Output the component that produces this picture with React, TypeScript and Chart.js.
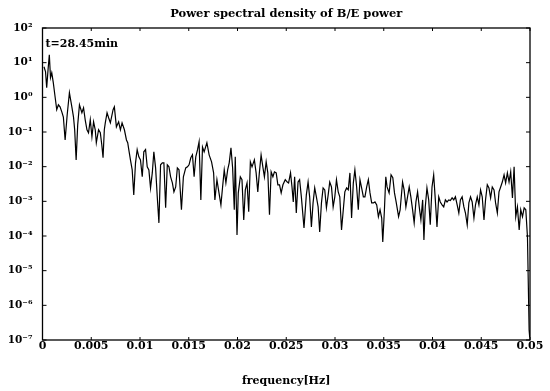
import React, { useEffect, useRef } from "react";
import { Chart, registerables } from "chart.js";

Chart.register(...registerables);

const titleText = "Power spectral density of B/E power";
const xAxisTitle = "frequency[Hz]";
const annotationText = "t=28.45min";

const xTickValues = [0, 0.005, 0.01, 0.015, 0.02, 0.025, 0.03, 0.035, 0.04, 0.045, 0.05];
const xTickLabels = ["0", "0.005", "0.01", "0.015", "0.02", "0.025", "0.03", "0.035", "0.04", "0.045", "0.05"];
const yTickValues = [1e-7, 1e-6, 1e-5, 1e-4, 1e-3, 1e-2, 1e-1, 1e0, 1e1, 1e2];
const yTickLabels = ["10⁻⁷", "10⁻⁶", "10⁻⁵", "10⁻⁴", "10⁻³", "10⁻²", "10⁻¹", "10⁰", "10¹", "10²"];

const freqHz = [
  0.00015, 0.00031, 0.00043, 0.00057, 0.0007, 0.00082, 0.00095, 0.00111, 0.00129, 0.00146,
  0.00163, 0.0018, 0.00198, 0.00214, 0.00232, 0.00253, 0.00276, 0.00301, 0.00318, 0.0033,
  0.00345, 0.00361, 0.00379, 0.00404, 0.00421, 0.00438, 0.00456, 0.00472, 0.0049, 0.00507,
  0.00524, 0.00541, 0.00552, 0.00575, 0.00593, 0.00608, 0.00621, 0.00634, 0.00644, 0.00662,
  0.00678, 0.00696, 0.00724, 0.00737, 0.00758, 0.00781, 0.00799, 0.00816, 0.0084, 0.00861,
  0.00874, 0.00885, 0.00902, 0.0092, 0.00936, 0.00954, 0.00971, 0.00988, 0.01005, 0.01023,
  0.01039, 0.01057, 0.01074, 0.01091, 0.01108, 0.01126, 0.01142, 0.0116, 0.01177, 0.01194,
  0.01211, 0.01229, 0.01245, 0.01263, 0.0128, 0.01297, 0.01314, 0.01332, 0.01348, 0.01366,
  0.01383, 0.014, 0.01425, 0.01445, 0.01469, 0.01487, 0.01503, 0.01521, 0.01538, 0.01555,
  0.01572, 0.0159, 0.01606, 0.01624, 0.01641, 0.01658, 0.01686, 0.01709, 0.01734, 0.01755,
  0.01768, 0.01789, 0.01802, 0.0183, 0.01847, 0.01864, 0.01881, 0.01899, 0.01915, 0.01933,
  0.0195, 0.01967, 0.01977, 0.01995, 0.02008, 0.02029, 0.02046, 0.02064, 0.0208, 0.02098,
  0.02115, 0.02132, 0.02149, 0.02173, 0.02191, 0.02208, 0.02224, 0.02242, 0.0226, 0.02276,
  0.02294, 0.02311, 0.02328, 0.02345, 0.02363, 0.02379, 0.02397, 0.02414, 0.02431, 0.02448,
  0.02466, 0.0249, 0.0251, 0.02524, 0.02544, 0.02559, 0.02572, 0.02586, 0.02603, 0.02621,
  0.02637, 0.02655, 0.02682, 0.02706, 0.02724, 0.0274, 0.02758, 0.02775, 0.02792, 0.02809,
  0.02827, 0.02843, 0.02861, 0.02878, 0.02895, 0.02912, 0.0293, 0.02946, 0.02964, 0.02981,
  0.02998, 0.03015, 0.03033, 0.03049, 0.03067, 0.03085, 0.03101, 0.03119, 0.03136, 0.03153,
  0.0317, 0.03188, 0.03204, 0.03222, 0.03239, 0.03256, 0.03273, 0.03291, 0.03307, 0.03325,
  0.03342, 0.03359, 0.03376, 0.03394, 0.0341, 0.03428, 0.03445, 0.03462, 0.03479, 0.0349,
  0.03507, 0.03521, 0.03534, 0.03555, 0.03575, 0.03593, 0.0361, 0.03627, 0.03652, 0.03668,
  0.03693, 0.03709, 0.03727, 0.03744, 0.03761, 0.03778, 0.03796, 0.03812, 0.0383, 0.03847,
  0.03864, 0.03881, 0.03899, 0.03912, 0.03926, 0.03943, 0.03961, 0.03977, 0.03995, 0.04012,
  0.04029, 0.04046, 0.04064, 0.0408, 0.04098, 0.04115, 0.04132, 0.04149, 0.04167, 0.04183,
  0.04201, 0.04218, 0.04235, 0.04253, 0.0427, 0.04286, 0.04304, 0.04322, 0.04338, 0.04356,
  0.04373, 0.0439, 0.04407, 0.04425, 0.04441, 0.04459, 0.04476, 0.04493, 0.0451, 0.04528,
  0.04544, 0.04562, 0.04579, 0.04596, 0.04613, 0.04631, 0.04647, 0.04665, 0.04682, 0.04699,
  0.04716, 0.04734, 0.0475, 0.04768, 0.04785, 0.04802, 0.0482, 0.04837, 0.04854, 0.04871,
  0.04889, 0.04905, 0.04923, 0.0494, 0.04957, 0.04974, 0.04991, 0.04997
];

const psdValues = [
  7.6, 5.5, 1.9, 6.3, 16.9, 3.7, 5.1, 2.6, 1.04, 0.44,
  0.61, 0.53, 0.38, 0.27, 0.059, 0.31, 1.36, 0.53, 0.27, 0.116,
  0.0157, 0.161, 0.61, 0.36, 0.5, 0.225, 0.116, 0.095, 0.225, 0.073,
  0.197, 0.116, 0.049, 0.116, 0.095, 0.043, 0.018, 0.116, 0.184, 0.36,
  0.257, 0.184, 0.44, 0.53, 0.141, 0.197, 0.116, 0.184, 0.116, 0.059,
  0.049, 0.031, 0.0157, 0.0081, 0.00153, 0.0129, 0.031, 0.0192, 0.0157, 0.0051,
  0.0268, 0.031, 0.0099, 0.0081, 0.00244, 0.0066, 0.0268, 0.0092, 0.00135, 0.000239,
  0.0113, 0.0129, 0.0129, 0.00065, 0.0113, 0.0099, 0.0051, 0.0034, 0.00188, 0.0026,
  0.0092, 0.0081, 0.00057, 0.0051, 0.0092, 0.0099, 0.0113, 0.018, 0.0219, 0.0051,
  0.0192, 0.031, 0.052, 0.0011, 0.037, 0.0268, 0.049, 0.0219, 0.0138, 0.0066,
  0.0011, 0.0042, 0.00244, 0.00079, 0.0026, 0.0081, 0.0034, 0.0081, 0.0129, 0.035,
  0.0092, 0.00057, 0.0192, 0.000107, 0.00175, 0.0051, 0.0042, 0.00029, 0.00214, 0.0034,
  0.0005, 0.0138, 0.0099, 0.0157, 0.0066, 0.00188, 0.0066, 0.0219, 0.0099, 0.0051,
  0.0138, 0.0066, 0.00041, 0.0071, 0.0051, 0.0071, 0.0066, 0.003, 0.003, 0.00175,
  0.003, 0.0042, 0.0036, 0.0034, 0.0066, 0.0026, 0.00096, 0.0051, 0.00046, 0.0036,
  0.0042, 0.00135, 0.000171, 0.00153, 0.0036, 0.00135, 0.000183, 0.0009, 0.00244, 0.00135,
  0.00069, 0.000131, 0.0009, 0.00244, 0.00214, 0.00065, 0.00153, 0.0036, 0.0026, 0.00069,
  0.00135, 0.0042, 0.00188, 0.00135, 0.00015, 0.00057, 0.00188, 0.00244, 0.00214, 0.0066,
  0.00033, 0.0034, 0.0081, 0.0026, 0.00057, 0.0042, 0.00244, 0.00135, 0.00135, 0.0026,
  0.0042, 0.00175, 0.0009, 0.0009, 0.00096, 0.00079, 0.00036, 0.00057, 0.00033, 0.0000675,
  0.00057, 0.0051, 0.0026, 0.00175, 0.0058, 0.0048, 0.00175, 0.00096, 0.00036, 0.00057,
  0.0036, 0.00214, 0.00069, 0.00135, 0.0026, 0.00135, 0.00057, 0.000239, 0.00096, 0.00188,
  0.00069, 0.00029, 0.0011, 0.000077, 0.00069, 0.00244, 0.0011, 0.00021, 0.0026, 0.0058,
  0.0011, 0.000183, 0.00135, 0.00096, 0.00079, 0.00069, 0.0011, 0.00096, 0.0011, 0.00105,
  0.00126, 0.0011, 0.00135, 0.00079, 0.00046, 0.0011, 0.00135, 0.00069, 0.00046, 0.00021,
  0.0009, 0.00135, 0.00096, 0.00033, 0.00079, 0.00135, 0.00079, 0.00214, 0.00135, 0.00029,
  0.0011, 0.003, 0.00244, 0.00126, 0.0026, 0.00214, 0.0009, 0.00046, 0.00188, 0.0026,
  0.0036, 0.0058, 0.0034, 0.0066, 0.0036, 0.0071, 0.00126, 0.0099, 0.00036, 0.00069,
  0.00015, 0.00057, 0.00036, 0.00065, 0.00057, 0.000094, 1.9e-7, 1.2e-7
];

const FONT = "'DejaVu Serif', 'Liberation Serif', serif";

const framePlugin = {
  id: "frameAndTicks",
  afterDraw(chart: any) {
    const { ctx, chartArea } = chart;
    const { left, right, top, bottom } = chartArea;
    const xs = chart.scales.x;
    const ys = chart.scales.y;
    ctx.save();
    ctx.strokeStyle = "#000";
    ctx.lineWidth = 1.3;
    ctx.strokeRect(left, top, right - left, bottom - top);
    ctx.lineWidth = 1;
    ctx.beginPath();
    yTickValues.forEach((v) => {
      const py = ys.getPixelForValue(v);
      ctx.moveTo(left, py);
      ctx.lineTo(left + 4, py);
      ctx.moveTo(right, py);
      ctx.lineTo(right - 4, py);
    });
    xTickValues.forEach((v) => {
      const px = xs.getPixelForValue(v);
      ctx.moveTo(px, top);
      ctx.lineTo(px, top + 3);
      ctx.moveTo(px, bottom);
      ctx.lineTo(px, bottom - 3);
    });
    ctx.stroke();
    ctx.fillStyle = "#000";
    ctx.font = "bold 11px " + FONT;
    ctx.textAlign = "left";
    ctx.textBaseline = "middle";
    ctx.fillText(annotationText, left + 3, top + 16);
    ctx.font = "bold 11.5px " + FONT;
    ctx.textAlign = "center";
    ctx.fillText(titleText, (left + right) / 2, 14);
    ctx.restore();
  },
};

export default function App() {
  const canvasRef = useRef<HTMLCanvasElement | null>(null);

  useEffect(() => {
    if (!canvasRef.current) return;
    const points = freqHz.map((f, i) => ({ x: f, y: psdValues[i] }));
    const chart = new Chart(canvasRef.current, {
      type: "line",
      data: {
        datasets: [
          {
            data: points,
            borderColor: "#000",
            borderWidth: 1.2,
            pointRadius: 0,
            tension: 0,
            fill: false,
          },
        ],
      },
      options: {
        animation: false,
        responsive: true,
        maintainAspectRatio: false,
        layout: { padding: { left: 0, right: 20, top: 28, bottom: 0 } },
        plugins: {
          legend: { display: false },
          tooltip: { enabled: false },
          title: { display: false },
        },
        scales: {
          x: {
            type: "linear",
            min: 0,
            max: 0.05,
            afterBuildTicks: (s: any) => {
              s.ticks = xTickValues.map((v) => ({ value: v }));
            },
            afterFit: (s: any) => {
              s.height = 51;
            },
            grid: { display: false, drawTicks: false },
            border: { display: false },
            ticks: {
              color: "#000",
              padding: 0,
              maxRotation: 0,
              autoSkip: false,
              font: { family: FONT, size: 11, weight: "bold" },
              callback: (_v: any, i: number) => xTickLabels[i],
            },
            title: {
              display: true,
              text: xAxisTitle,
              color: "#000",
              font: { family: FONT, size: 11, weight: "bold" },
              padding: { top: 0, bottom: 3 },
            },
          },
          y: {
            type: "logarithmic",
            min: 1e-7,
            max: 1e2,
            afterBuildTicks: (s: any) => {
              s.ticks = yTickValues.map((v) => ({ value: v }));
            },
            afterFit: (s: any) => {
              s.width = 42.5;
            },
            grid: { display: false, drawTicks: false },
            border: { display: false },
            ticks: {
              color: "#000",
              padding: 10,
              autoSkip: false,
              font: { family: FONT, size: 10.5, weight: "bold" },
              callback: (_v: any, i: number) => yTickLabels[i],
            },
          },
        },
      },
      plugins: [framePlugin],
    });
    return () => chart.destroy();
  }, []);

  return (
    <div
      style={{
        position: "fixed",
        left: 0,
        top: 0,
        width: 550,
        height: 391,
        background: "#fff",
      }}
    >
      <canvas ref={canvasRef} />
    </div>
  );
}
